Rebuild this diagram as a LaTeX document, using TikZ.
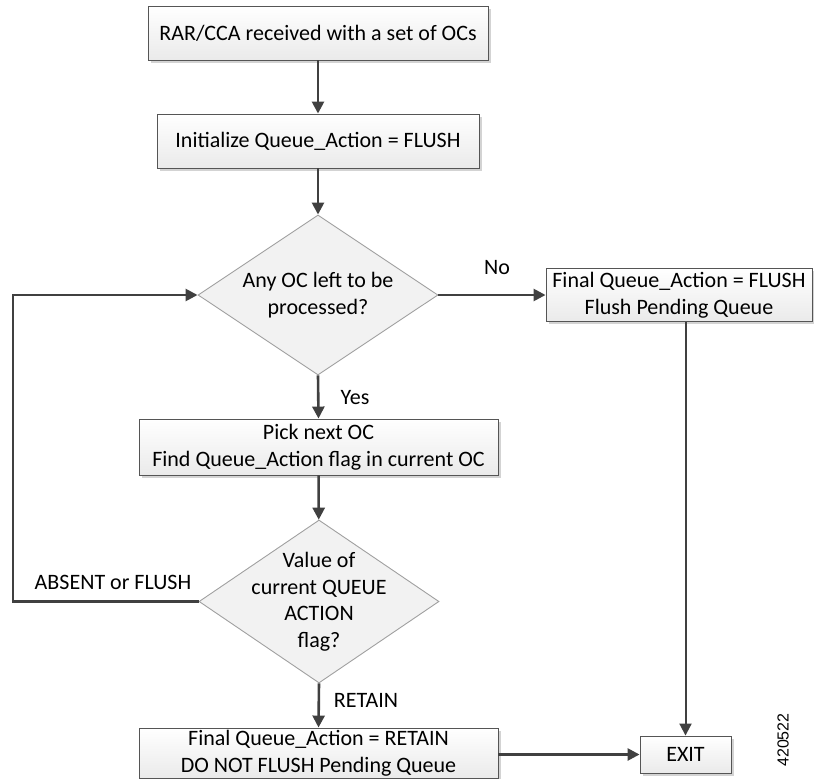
\documentclass[tikz,border=0pt]{standalone}
\usepackage{fontspec}
\setmainfont{Carlito}
\newfontfamily\idfont{Liberation Sans}
\usetikzlibrary{arrows.meta,shapes.geometric,shadows}
\definecolor{linec}{HTML}{404040}
\definecolor{boxborder}{HTML}{555555}
\definecolor{diaborder}{HTML}{A0A0A0}
\definecolor{boxfill}{HTML}{EAEAEA}
\definecolor{diafill}{HTML}{F2F2F2}
\begin{document}
\begin{tikzpicture}[x=1pt,y=-1pt,
  mainfont/.style={font=\fontsize{22}{26.5}\selectfont},
  box/.style={rectangle, draw=boxborder, line width=0.9pt, top color=white, bottom color=boxfill,
    drop shadow={shadow xshift=2.5pt, shadow yshift=-2.5pt, opacity=0.35, fill=gray},
    inner sep=0pt, align=center, mainfont, text=black},
  dia/.style={diamond, draw=diaborder, line width=0.9pt, fill=diafill, inner sep=0pt},
  txt/.style={align=center, inner sep=0pt, mainfont},
  lbl/.style={inner sep=0pt, mainfont},
  arr/.style={draw=linec, line width=2.6pt, -{Triangle[length=12pt,width=12pt]}},
  thinarr/.style={draw=linec, line width=2pt, -{Triangle[length=12pt,width=12pt]}}]
\useasboundingbox (0,0) rectangle (814,779);

\node[box, minimum width=340pt, minimum height=54pt] (b1) at (318,33) {RAR/CCA received with a set of OCs};
\node[box, minimum width=322pt, minimum height=54pt] (b2) at (318,141) {Initialize Queue\_Action = FLUSH};
\node[dia, minimum width=240pt, minimum height=160pt] (d1) at (318,295) {};
\node[txt] (d1t) at (d1.center) {Any OC left to be\\processed?};
\node[box, minimum width=266pt, minimum height=53pt] (b3) at (679,295) {Final Queue\_Action = FLUSH\\Flush Pending Queue};
\node[box, minimum width=359pt, minimum height=56pt] (b4) at (318.5,447) {Pick next OC\\Find Queue\_Action flag in current OC};
\node[dia, minimum width=240pt, minimum height=163pt] (d2) at (319,601.5) {};
\node[txt] (d2t) at (d2.center) {Value of\\current QUEUE\\ACTION\\flag?};
\node[box, minimum width=359pt, minimum height=50pt] (b5) at (318.5,753) {Final Queue\_Action = RETAIN\\DO NOT FLUSH Pending Queue};
\node[box, minimum width=91pt, minimum height=37pt] (exit) at (685.5,754.5) {EXIT};

\coordinate (loopx) at (13,0);

\draw[arr] (b1) -- (b2);
\draw[arr] (b2) -- (d1);
\draw[arr] (d1.east) -- (b3.west);
\draw[arr] (d1.south) -- (b4.north);
\draw[arr] (b4) -- (d2);
\draw[arr] (d2.south) -- (b5.north);
\draw[arr] (d2.west) -- (d2.west -| loopx) -- (d1.west -| loopx) -- (d1.west);
\draw[thinarr] (b3.south -| exit.north) -- (exit.north);
\draw[arr] (b5.east |- exit.west) -- (exit.west);

\node[lbl] (lno) at (497,268) {No};
\node[lbl] (lyes) at (355,398) {Yes};
\node[lbl] (lret) at (366,700) {RETAIN};
\node[lbl] (labs) at (113,582) {ABSENT or FLUSH};
\node[inner sep=0pt, rotate=90, font=\idfont\fontsize{16}{18}\selectfont] (fig) at (783,740) {420522};
\end{tikzpicture}
\end{document}
